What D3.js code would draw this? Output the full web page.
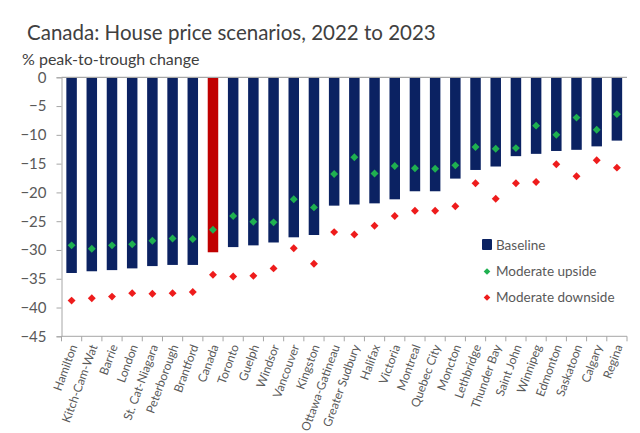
<!DOCTYPE html>
<html><head><meta charset="utf-8">
<script src="https://cdn.jsdelivr.net/npm/d3@7"></script>
<style>body{margin:0;background:#fff;}svg{display:block;font-family:Lato,"Open Sans",sans-serif;}</style>
</head><body><svg id="c" width="640" height="433"></svg>
<script>
const categories = ["Hamilton","Kitch-Cam-Wat","Barrie","London","St. Cat-Niagara","Peterborough","Brantford","Canada","Toronto","Guelph","Windsor","Vancouver","Kingston","Ottawa-Gatineau","Greater Sudbury","Halifax","Victoria","Montreal","Quebec City","Moncton","Lethbridge","Thunder Bay","Saint John","Winnipeg","Edmonton","Saskatoon","Calgary","Regina"];
const baseline = [-34.0,-33.7,-33.5,-33.2,-32.8,-32.6,-32.6,-30.4,-29.5,-29.2,-28.7,-27.8,-27.4,-22.3,-22.1,-21.9,-21.2,-19.8,-19.8,-17.6,-16.1,-15.5,-13.7,-13.3,-12.8,-12.6,-12.0,-11.0];
const upside = [-29.2,-29.8,-29.2,-29.0,-28.4,-28.0,-28.1,-26.5,-24.1,-25.1,-25.2,-21.2,-22.6,-16.8,-13.9,-16.7,-15.4,-15.8,-15.9,-15.3,-12.1,-12.4,-12.3,-8.4,-10.0,-7.0,-9.1,-6.4];
const downside = [-38.8,-38.4,-38.1,-37.5,-37.6,-37.5,-37.3,-34.3,-34.6,-34.5,-33.2,-29.7,-32.4,-26.9,-27.3,-25.8,-24.1,-23.2,-23.2,-22.4,-18.4,-21.1,-18.4,-18.2,-15.1,-17.2,-14.4,-15.7];
const yTicks = [0,-5,-10,-15,-20,-25,-30,-35,-40,-45];
const seriesNames = ["Baseline","Moderate upside","Moderate downside"];

const colors = {bar:"#0b2262", canada:"#c00000", up:"#1fb050", down:"#ee1c1c", axis:"#a6a6a6", text:"#595959"};
const svg = d3.select("#c");
const m = {l:61.5, r:627, t:77.3, b:336.3};
const x = d3.scaleBand().domain(categories).range([m.l, m.r]).paddingInner(0.48).paddingOuter(0.24);
const y = d3.scaleLinear().domain([-45,0]).range([m.b, m.t]);

svg.append("text").attr("x",27).attr("y",40).attr("font-size",20.5).attr("fill","#404040").text("Canada: House price scenarios, 2022 to 2023");
svg.append("text").attr("x",22).attr("y",65).attr("font-size",16).attr("fill","#404040").text("% peak-to-trough change");

// bars
svg.append("g").selectAll("rect").data(categories).join("rect")
  .attr("x",d=>x(d)).attr("width",x.bandwidth())
  .attr("y",y(0)).attr("height",(d,i)=>y(baseline[i])-y(0))
  .attr("fill",d=>d==="Canada"?colors.canada:colors.bar);

// zero line
svg.append("line").attr("x1",m.l).attr("x2",m.r).attr("y1",y(0)).attr("y2",y(0)).attr("stroke",colors.axis).attr("stroke-width",1.2);

// y axis
const ya = svg.append("g").attr("transform",`translate(${m.l},0)`).call(d3.axisLeft(y).tickValues(yTicks).tickSize(5).tickPadding(10));
ya.select(".domain").attr("stroke",colors.axis);
ya.selectAll(".tick line").attr("stroke",colors.axis);
ya.selectAll("text").attr("font-size",15).attr("fill",colors.text).attr("font-family","Lato, sans-serif");

// x axis at bottom with boundary ticks
const xa = svg.append("g").attr("transform",`translate(0,${m.b})`);
xa.append("line").attr("x1",m.l).attr("x2",m.r).attr("stroke",colors.axis);
const bounds = d3.range(categories.length+1).map(i=>m.l + (m.r-m.l)*i/categories.length);
xa.selectAll(".bt").data(bounds).join("line").attr("class","bt").attr("x1",d=>d).attr("x2",d=>d).attr("y1",0).attr("y2",5).attr("stroke",colors.axis);
xa.selectAll(".lbl").data(categories).join("text").attr("class","lbl")
  .attr("transform",d=>`translate(${x(d)+x.bandwidth()/2+3},9) rotate(-70)`)
  .attr("text-anchor","end").attr("dominant-baseline","middle").attr("font-size",12).attr("fill",colors.text).text(d=>d);

// diamonds
const diamond = d3.symbol().type(d3.symbolDiamond2).size(40);
svg.append("g").selectAll("path").data(upside).join("path")
  .attr("d",diamond).attr("transform",(d,i)=>`translate(${x(categories[i])+x.bandwidth()/2},${y(d)})`).attr("fill",colors.up);
svg.append("g").selectAll("path").data(downside).join("path")
  .attr("d",diamond).attr("transform",(d,i)=>`translate(${x(categories[i])+x.bandwidth()/2},${y(d)})`).attr("fill",colors.down);

// legend
const lg = svg.append("g");
lg.append("rect").attr("x",482).attr("y",239).attr("width",10).attr("height",11).attr("rx",1).attr("fill",colors.bar);
lg.append("path").attr("d",d3.symbol().type(d3.symbolDiamond2).size(28)).attr("transform","translate(487,271.5)").attr("fill",colors.up);
lg.append("path").attr("d",d3.symbol().type(d3.symbolDiamond2).size(28)).attr("transform","translate(487,297.5)").attr("fill",colors.down);
[250,276,302].forEach((yy,i)=>{
  lg.append("text").attr("x",496).attr("y",yy).attr("font-size",13.5).attr("fill",colors.text).text(seriesNames[i]);
});
</script></body></html>
